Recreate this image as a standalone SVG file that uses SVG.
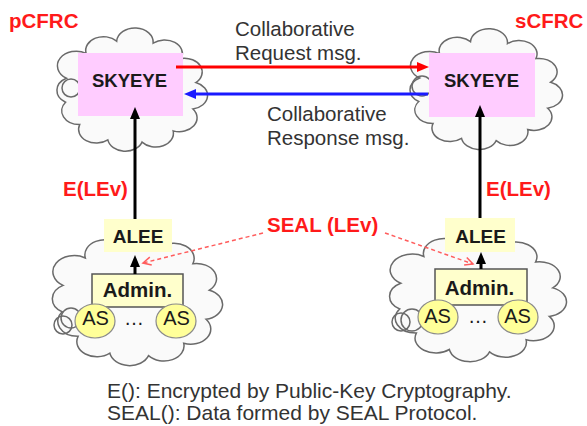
<svg xmlns="http://www.w3.org/2000/svg" xmlns:xlink="http://www.w3.org/1999/xlink" width="587" height="426" viewBox="0 0 587 426">
<style>
.cloud{fill:#fafafa;stroke:#6a6a6a;stroke-width:1.5}
.puff{fill:none;stroke:#6a6a6a;stroke-width:1.5}
.t{font-family:"Liberation Sans",Arial,sans-serif}
.red{fill:#ff1a1a;font-weight:bold}
.gray{fill:#333333;font-size:20.5px}
.nb{fill:#1a1a1a;font-weight:bold;text-anchor:middle}
.nr{fill:#1a1a1a;text-anchor:middle;font-size:20px}
.sky{fill:#ffccff}
.alee{fill:#ffffcc}
.admin{fill:#ffffcc;stroke:#555555;stroke-width:1.5}
.as{fill:#ffff99;stroke:#8a8a8a;stroke-width:1.2}
.arr{stroke-width:3;fill:none}
.dash{stroke:#ff5c5c;stroke-width:1.5;stroke-dasharray:4 3;fill:none}
</style>
<defs>
<path id="cloudShape" vector-effect="non-scaling-stroke" d="M-81.1,-21.7 A22.5,22.5 0 0 1 -56.2,-62.4 A22.5,22.5 0 0 1 -17.5,-82.2 A22.5,22.5 0 0 1 28.7,-79 A22.5,22.5 0 0 1 64.3,-54 A22.5,22.5 0 0 1 82.7,-14.6 A22.5,22.5 0 0 1 79,28.7 A22.5,22.5 0 0 1 54,64.3 A22.5,22.5 0 0 1 14.6,82.7 A22.5,22.5 0 0 1 -28.7,79 A22.5,22.5 0 0 1 -64.3,54 A22.5,22.5 0 0 1 -82.2,17.5 A22.5,22.5 0 0 1 -81.1,-21.7 Z"/>
<marker id="hRed" markerUnits="userSpaceOnUse" markerWidth="13" markerHeight="11" refX="2" refY="5" orient="auto"><path d="M0,0 L12,5 L0,10 Z" fill="#ff0000"/></marker>
<marker id="hBlue" markerUnits="userSpaceOnUse" markerWidth="13" markerHeight="11" refX="2" refY="5" orient="auto"><path d="M0,0 L12,5 L0,10 Z" fill="#1a1aff"/></marker>
<marker id="hBlack" markerUnits="userSpaceOnUse" markerWidth="13" markerHeight="11" refX="2" refY="5" orient="auto"><path d="M0,0 L12,5 L0,10 Z" fill="#000000"/></marker>
<marker id="hOpen" markerUnits="userSpaceOnUse" markerWidth="12" markerHeight="12" refX="9" refY="5" orient="auto"><path d="M1,1 L9,5 L1,9" fill="none" stroke="#ff5c5c" stroke-width="1.5"/></marker>
</defs>

<g id="pCFRC">
<use xlink:href="#cloudShape" href="#cloudShape" class="cloud" transform="translate(130.5,91.5) scale(0.79,0.612)"/>
<circle class="puff" cx="71" cy="88" r="9"/>
<rect class="sky" x="78" y="53" width="105" height="63"/>
<text class="t nb" x="129.5" y="87" font-size="18.5">SKYEYE</text>
<text class="t red" x="9" y="28" font-size="20.5">pCFRC</text>
</g>

<g id="sCFRC">
<use xlink:href="#cloudShape" href="#cloudShape" class="cloud" transform="translate(484.5,91) scale(0.8,0.6)"/>
<circle class="puff" cx="422" cy="86" r="10"/>
<rect class="sky" x="429" y="53" width="106" height="64"/>
<text class="t nb" x="481.5" y="87" font-size="18.5">SKYEYE</text>
<text class="t red" x="515" y="28" font-size="20.5">sCFRC</text>
</g>

<g id="left-domain">
<use xlink:href="#cloudShape" href="#cloudShape" class="cloud" transform="translate(135.5,300) scale(0.893,0.673)"/>
<circle class="puff" cx="63" cy="325" r="9"/>
<circle class="puff" cx="71" cy="318" r="10"/>
</g>
<g id="right-domain">
<use xlink:href="#cloudShape" href="#cloudShape" class="cloud" transform="translate(476,297.5) scale(0.928,0.658)"/>
<circle class="puff" cx="401" cy="322" r="9"/>
<circle class="puff" cx="412" cy="320" r="11"/>
</g>

<g id="ALEE-left">
<rect class="alee" x="104" y="219" width="68" height="33"/>
<text class="t nb" x="138" y="243" font-size="19">ALEE</text>
</g>
<g id="Admin-left">
<rect class="admin" x="92" y="274" width="91" height="33"/>
<text class="t nb" x="137.5" y="297" font-size="20.5">Admin.</text>
</g>
<g id="AS-left-1">
<ellipse class="as" cx="95" cy="321" rx="20" ry="17"/>
<text class="t nr" x="95.5" y="325">AS</text>
</g>
<g id="AS-left-2">
<ellipse class="as" cx="176" cy="321" rx="20" ry="17"/>
<text class="t nr" x="176.5" y="325">AS</text>
</g>
<text class="t nr" x="134" y="325">…</text>

<g id="ALEE-right">
<rect class="alee" x="445" y="218" width="70" height="34"/>
<text class="t nb" x="480.5" y="243" font-size="19">ALEE</text>
</g>
<g id="Admin-right">
<rect class="admin" x="435" y="269" width="92" height="36"/>
<text class="t nb" x="479.5" y="295" font-size="20.5">Admin.</text>
</g>
<g id="AS-right-1">
<ellipse class="as" cx="438" cy="317" rx="20" ry="17"/>
<text class="t nr" x="437.5" y="323">AS</text>
</g>
<g id="AS-right-2">
<ellipse class="as" cx="518" cy="317" rx="20" ry="17"/>
<text class="t nr" x="517.5" y="323">AS</text>
</g>
<text class="t nr" x="478" y="323">…</text>

<g id="connectors">
<line class="arr" x1="176" y1="67" x2="419" y2="67" stroke="#ff0000" marker-end="url(#hRed)"/>
<line class="arr" x1="428" y1="94" x2="194" y2="94" stroke="#1a1aff" marker-end="url(#hBlue)"/>
<line class="arr" x1="135" y1="219" x2="135" y2="117" stroke="#000000" marker-end="url(#hBlack)"/>
<line class="arr" x1="480" y1="218" x2="480" y2="115" stroke="#000000" marker-end="url(#hBlack)"/>
<line class="arr" x1="135" y1="274" x2="135" y2="265" stroke="#000000" marker-end="url(#hBlack)"/>
<line class="arr" x1="481" y1="269" x2="481" y2="262" stroke="#000000" marker-end="url(#hBlack)"/>
<line class="dash" x1="263" y1="233" x2="143" y2="263" marker-end="url(#hOpen)"/>
<line class="dash" x1="385" y1="233" x2="473" y2="264" marker-end="url(#hOpen)"/>
</g>

<g id="labels">
<text class="t gray" x="235" y="36">Collaborative</text>
<text class="t gray" x="235" y="60">Request msg.</text>
<text class="t gray" x="267" y="121">Collaborative</text>
<text class="t gray" x="267" y="145">Response msg.</text>
<text class="t red" x="63" y="196" font-size="20.5">E(LEv)</text>
<text class="t red" x="486" y="196" font-size="20.5">E(LEv)</text>
<text class="t red" x="267" y="232" font-size="20.5">SEAL (LEv)</text>
<text class="t" x="107" y="398" font-size="21" fill="#333333">E(): Encrypted by Public-Key Cryptography.</text>
<text class="t" x="107" y="420" font-size="21" fill="#333333">SEAL(): Data formed by SEAL Protocol.</text>
</g>
</svg>
